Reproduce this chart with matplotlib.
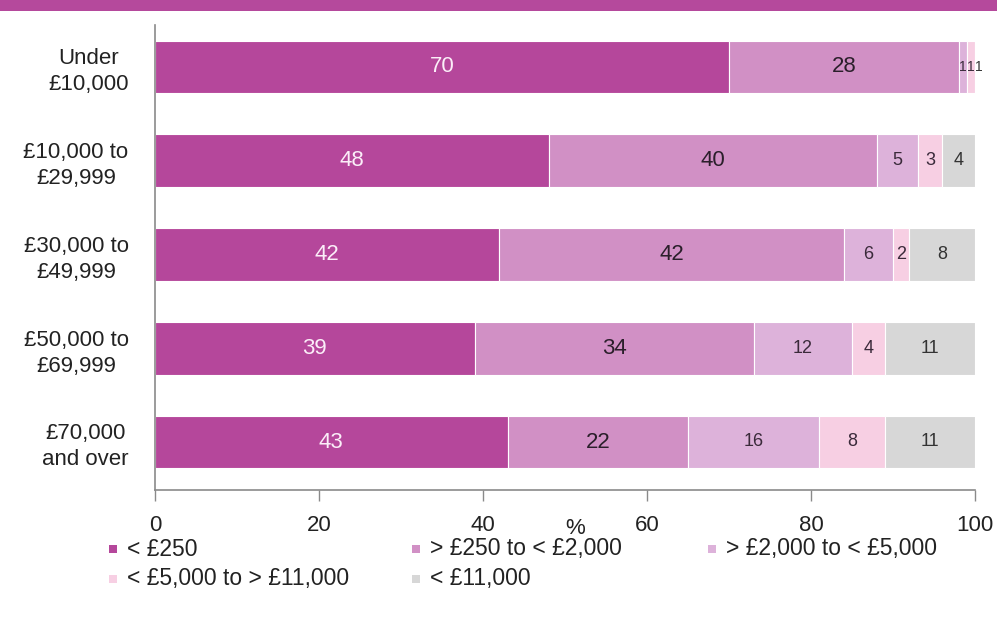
import matplotlib.pyplot as plt
from matplotlib.patches import Rectangle

# DATA =================================================================================================================

bands = ["Under\n£10,000", "£10,000 to\n£29,999", "£30,000 to\n£49,999", "£50,000 to\n£69,999", "£70,000\nand over"]
under_250 = [70, 48, 42, 39, 43]
from_250_to_2000 = [28, 40, 42, 34, 22]
from_2000_to_5000 = [1, 5, 6, 12, 16]
from_5000_to_11000 = [1, 3, 2, 4, 8]
over_11000 = [1, 4, 8, 11, 11]

series_names = [
    "< £250",
    "> £250 to < £2,000",
    "> £2,000 to < £5,000",
    "< £5,000 to > £11,000",
    "< £11,000",
]
x_ticks = [0, 20, 40, 60, 80, 100]

# STYLE ================================================================================================================

COLORS = ["#b5479b", "#d190c5", "#ddb2da", "#f7cfe3", "#d7d7d7"]
LABEL_COLORS = ["#fbeef8", "#2b1f2b", "#3a2a3a", "#3a2a3a", "#333333"]
LABEL_SIZES = [16, 16, 13, 13, 13]
AXIS_COLOR = "#8a8a8a"
BAND_COLOR = "#b5499c"
TEXT_COLOR = "#222222"

plt.rcParams["font.family"] = ["Liberation Sans", "DejaVu Sans"]

fig = plt.figure(figsize=(9.97, 6.26), dpi=100)
ax = fig.add_axes([155 / 997, 1 - 490 / 626, 820 / 997, 465 / 626])

# purple strip along the top edge
fig.patches.append(Rectangle((0, 1 - 11 / 626), 1, 11 / 626, transform=fig.transFigure,
                             facecolor=BAND_COLOR, edgecolor="none"))

series = [under_250, from_250_to_2000, from_2000_to_5000, from_5000_to_11000, over_11000]
rows = list(range(len(bands)))
left = [0] * len(bands)
for values, color, tcolor, tsize in zip(series, COLORS, LABEL_COLORS, LABEL_SIZES):
    ax.barh(rows, values, left=left, height=0.565, color=color, edgecolor="white", linewidth=0.8)
    for row, (start, value) in enumerate(zip(left, values)):
        ax.text(start + value / 2, row, str(value), ha="center", va="center",
                color=tcolor, fontsize=tsize if value > 1 else 10)
    left = [a + b for a, b in zip(left, values)]

ax.set_xlim(0, 100)
ax.set_ylim(4.512, -0.448)
ax.set_yticks(rows)
ax.set_yticklabels(bands, fontsize=16, color=TEXT_COLOR, linespacing=1.3, multialignment="center")
ax.set_xticks(x_ticks)
ax.set_xticklabels([str(t) for t in x_ticks], fontsize=16, color=TEXT_COLOR)
ax.tick_params(axis="y", length=0, pad=19)
ax.tick_params(axis="x", length=8, width=1, color=AXIS_COLOR, pad=10)
for side in ("top", "right"):
    ax.spines[side].set_visible(False)
for side in ("left", "bottom"):
    ax.spines[side].set_color(AXIS_COLOR)
    ax.spines[side].set_linewidth(1.2)
ax.spines["left"].set_zorder(5)

fig.text(575 / 997, 1 - 528 / 626, "%", ha="center", va="center", fontsize=16, color=TEXT_COLOR)

# legend: two rows, three columns, small square keys
legend_slots = [(109, 549), (412, 549), (708, 549), (109, 579), (412, 579)]
for (px, py), name, color in zip(legend_slots, series_names, COLORS):
    fig.patches.append(Rectangle((px / 997, 1 - (py + 4) / 626), 8 / 997, 8 / 626,
                                 transform=fig.transFigure, facecolor=color, edgecolor="none"))
    fig.text((px + 18) / 997, 1 - py / 626, name, ha="left", va="center", fontsize=16.5, color=TEXT_COLOR)

fig.savefig("out.png", dpi=100)
